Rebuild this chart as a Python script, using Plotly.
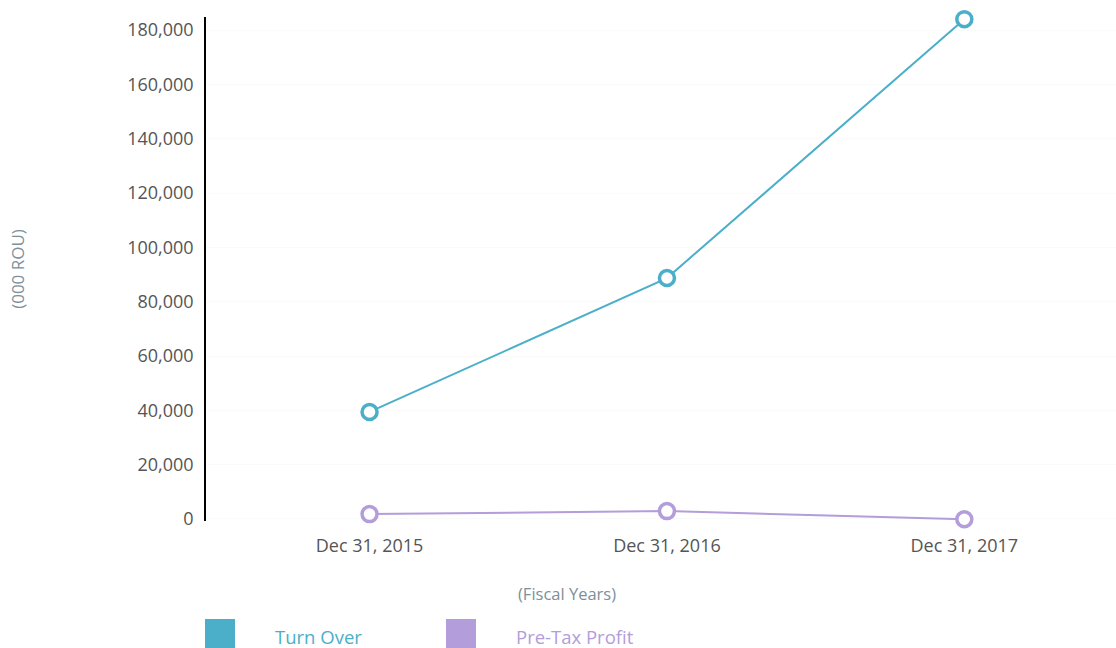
import plotly.graph_objects as go

categories = ["Dec 31, 2015", "Dec 31, 2016", "Dec 31, 2017"]
turn_over = [39400, 88700, 184000]
pre_tax_profit = [1800, 2900, -100]
y_ticks = [0, 20000, 40000, 60000, 80000, 100000, 120000, 140000, 160000, 180000]
y_tick_labels = ["0", "20,000", "40,000", "60,000", "80,000", "100,000",
                 "120,000", "140,000", "160,000", "180,000"]

c_turn = "#4bafc9"
c_profit = "#b39ddb"
title_col = "#7d8f99"

fig = go.Figure()
fig.add_trace(go.Scatter(
    x=categories, y=turn_over, mode="lines+markers", name="Turn Over",
    line=dict(color=c_turn, width=2),
    marker=dict(size=15, color="white", line=dict(color=c_turn, width=3.5)),
    showlegend=False, cliponaxis=False))
fig.add_trace(go.Scatter(
    x=categories, y=pre_tax_profit, mode="lines+markers", name="Pre-Tax Profit",
    line=dict(color=c_profit, width=2),
    marker=dict(size=15, color="white", line=dict(color=c_profit, width=3.5)),
    showlegend=False, cliponaxis=False))

W, H = 1116, 648
L, R, T, B = 206, 0, 17, 127
pw, ph = W - L - R, H - T - B

def px(x):
    return (x - L) / pw

def py(y):
    return (H - B - y) / ph

# custom legend
legend_items = [("Turn Over", c_turn, 205, 273), ("Pre-Tax Profit", c_profit, 446, 514)]
shapes = []
annotations = []
for name, col, sx, tx in legend_items:
    shapes.append(dict(type="rect", xref="paper", yref="paper",
                       x0=px(sx), x1=px(sx + 30), y0=py(649), y1=py(619),
                       fillcolor=col, line=dict(width=0)))
    annotations.append(dict(text=name, xref="paper", yref="paper",
                            x=px(tx), y=py(636), xanchor="left", yanchor="middle",
                            showarrow=False, font=dict(family="Open Sans", size=18.5, color=col)))

annotations.append(dict(text="(Fiscal Years)", xref="paper", yref="paper",
                        x=px(567), y=py(593), xanchor="center", yanchor="middle",
                        showarrow=False, font=dict(family="Open Sans", size=16.5, color=title_col)))

fig.update_layout(
    width=W, height=H,
    margin=dict(l=L, r=R, t=T, b=B),
    paper_bgcolor="white", plot_bgcolor="white",
    font=dict(family="Open Sans", color="#555555"),
    shapes=shapes, annotations=annotations,
    xaxis=dict(
        type="category", range=[-0.55, 2.51],
        showgrid=False, zeroline=False, showline=False,
        tickfont=dict(family="Open Sans", size=18, color="#555555"),
        ticks="", ticklabelstandoff=12,
    ),
    yaxis=dict(
        range=[-740, 184800],
        tickvals=y_ticks, ticktext=y_tick_labels,
        showgrid=True, gridcolor="#fafafa", gridwidth=1,
        zeroline=False,
        showline=True, linecolor="#000000", linewidth=1.5,
        tickfont=dict(family="Open Sans", size=18, color="#555555"),
        ticks="", ticklabelstandoff=7,
        title=dict(text="(000 ROU)", font=dict(family="Open Sans", size=17, color=title_col), standoff=98),
    ),
)

fig.write_html("out.html")
